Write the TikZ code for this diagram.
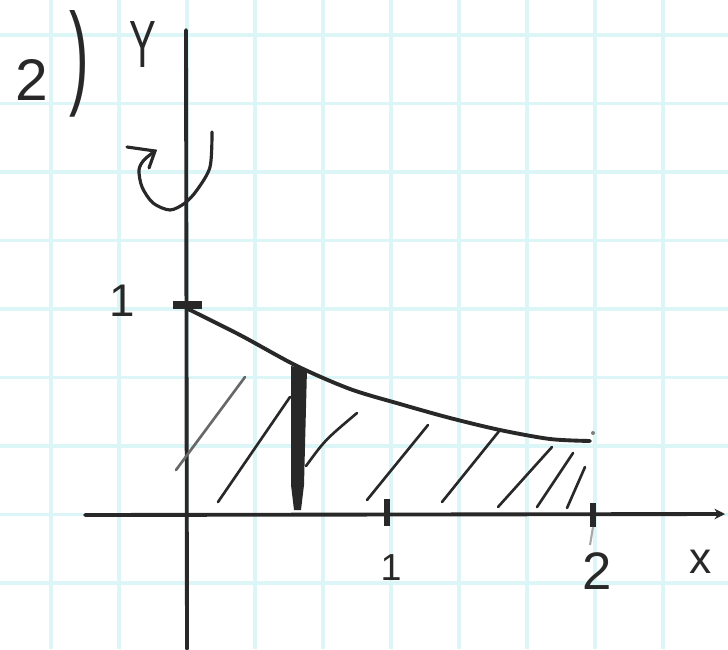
\documentclass[tikz,border=0pt]{standalone}
\usepackage{fontspec}
\setmainfont{Liberation Sans}
\usetikzlibrary{arrows.meta}
\definecolor{gridc}{RGB}{220,246,247}
\definecolor{ink}{RGB}{40,40,40}
\begin{document}
\begin{tikzpicture}[x=0.01cm,y=-0.01cm,
  gridline/.style={draw=gridc,line width=1pt},
  inkline/.style={draw=ink,line width=1.1pt,line cap=round},
  hatchline/.style={draw=ink,line width=0.75pt,line cap=round},
  tickline/.style={draw=ink,line width=1.6pt},
  lbl/.style={inner sep=0pt,text=ink}]
\fill[white] (0,0) rectangle (728,649);
\useasboundingbox (0,0) rectangle (728,649);
% grid paper
\foreach \k in {0,...,9} \draw[gridline] ({51+68*\k},0) -- ({51+68*\k},649);
\foreach \k in {0,...,8} \draw[gridline] (0,{35+68.5*\k}) -- (728,{35+68.5*\k});
% axes
\coordinate (xl) at (85,515);
\coordinate (xr) at (725,514);
\coordinate (yt) at (186,30);
\coordinate (yb) at (187,649);
\draw[inkline,-{Stealth[length=3pt,width=3pt]}] (xl) -- (xr);
\draw[inkline] (yt) -- (yb);
% ticks
\coordinate (t1a) at (387,499); \coordinate (t1b) at (387,526);
\coordinate (t2a) at (593,503); \coordinate (t2b) at (593,527);
\coordinate (t2c) at (590,545);
\coordinate (tya) at (173,305); \coordinate (tyb) at (202,305);
\draw[tickline] (t1a) -- (t1b);
\draw[tickline] (t2a) -- (t2b);
\draw[draw=ink!40,line width=0.6pt] (t2b) -- (t2c);
\draw[draw=ink,line width=2pt] (tya) -- (tyb);
% labels
\node[lbl,font=\fontsize{16.7}{18}\selectfont] (two) at (32,80) {2};
\node[lbl,font=\fontsize{16.7}{18}\selectfont] (par) at (79,64) {\scalebox{1}[1.95]{)}};
\node[lbl,font=\fontsize{19}{20}\selectfont] (ylab) at (143,45) {\scalebox{0.6}[1]{Y}};
\node[lbl,font=\fontsize{13}{14}\selectfont] (one y) at (122,301) {1};
\node[lbl,font=\fontsize{10.7}{12}\selectfont] (one x) at (391,568) {1};
\node[lbl,font=\fontsize{15}{16}\selectfont] (two x) at (597,571) {2};
\node[lbl,font=\fontsize{12.6}{14}\selectfont] (xlab) at (701,562) {x};
% rotation arrow
\draw[inkline,line width=0.9pt] plot[smooth] coordinates {(212,132) (210,167) (197,190) (185,203) (170,210) (153,203) (142,187) (139,170) (144,160) (155,151)};
\coordinate (ah1) at (127,147); \coordinate (ah2) at (155,151); \coordinate (ah3) at (149,168);
\draw[inkline,line width=0.9pt] (ah1) -- (ah2) -- (ah3);
% curve
\draw[inkline] plot[smooth] coordinates {(186,308) (240,335) (297,366) (350,389) (400,404) (450,418) (500,430) (550,439) (590,441)};
\fill[ink!60] (593,433) circle (2);
% representative strip
\fill[ink] (291,366) -- (307,369) -- (304,485) -- (301,510) -- (294,510) -- (291,485) -- cycle;
% hatching
\draw[hatchline,draw=ink!70] (176,470) -- (245,377);
\draw[hatchline] (218,502) -- (290,397);
\draw[hatchline] (306,466) .. controls (325,440) .. (357,413);
\draw[hatchline] (367,500) -- (428,425);
\draw[hatchline] (442,502) -- (500,430);
\draw[hatchline] (498,507) -- (552,447);
\draw[hatchline] (537,507) -- (573,453);
\draw[hatchline] (567,508) -- (585,467);
\end{tikzpicture}
\end{document}
